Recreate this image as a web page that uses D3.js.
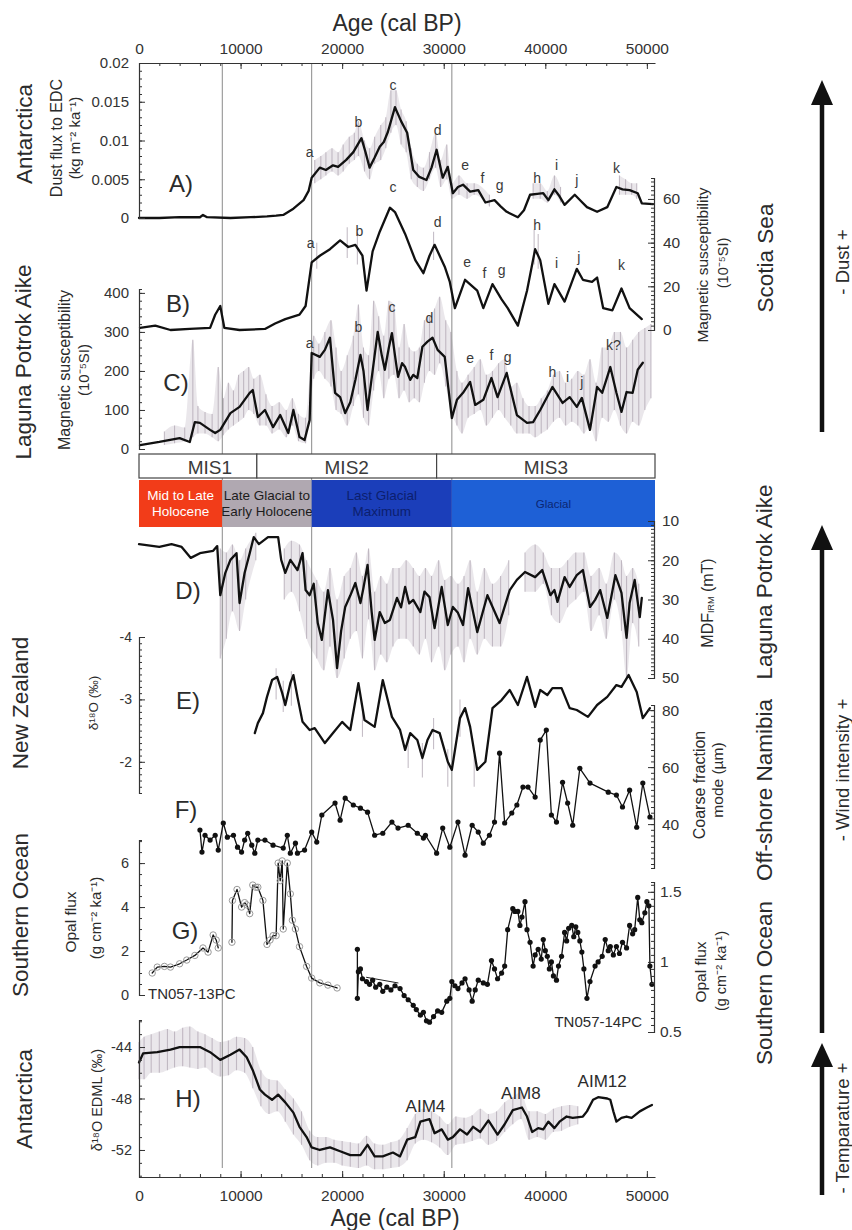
<!DOCTYPE html>
<html><head><meta charset="utf-8">
<script src="https://cdn.jsdelivr.net/npm/d3@7"></script>
<style>
html,body{margin:0;padding:0;background:#fff;}
svg{display:block;font-family:"Liberation Sans",Arial,Helvetica,sans-serif;}
</style></head><body>
<svg id="fig" width="852" height="1230"></svg>
<script>
// ---------- records: [age (cal BP), value] ----------
// A) dust flux to EDC (kg m-2 ka-1)
const dustFlux = [[0,0],[2000,0],[4000,0.0001],[6000,0.0001],[6300,0.0004],[6700,0.0001],[9000,0],[11000,0.0001],[12600,0.0002],[13500,0.0003],[14200,0.0004],[15200,0.0012],[16200,0.0023],[16700,0.0035],[17000,0.0052],[17800,0.0065],[18400,0.0062],[19100,0.0068],[19600,0.0066],[20400,0.0075],[21100,0.0085],[21900,0.0103],[22300,0.0085],[22700,0.0065],[23200,0.0078],[23700,0.0092],[24100,0.0098],[24500,0.0111],[25200,0.0143],[25800,0.0125],[26400,0.011],[27000,0.0062],[27600,0.0053],[28300,0.0049],[28800,0.0065],[29300,0.0088],[29900,0.0052],[30400,0.0066],[30900,0.0032],[31400,0.004],[31900,0.0043],[32600,0.0034],[33400,0.0036],[34100,0.002],[35000,0.0023],[35600,0.0015],[36200,0.0008],[37300,0.0001],[37900,0.001],[38500,0.003],[39200,0.0031],[39800,0.0032],[40300,0.0023],[40900,0.0037],[41400,0.0028],[41900,0.0017],[42900,0.003],[43500,0.0022],[44100,0.0014],[45100,0.0008],[46100,0.0014],[47000,0.004],[47600,0.0037],[48300,0.0036],[49100,0.0032],[49500,0.0019],[50600,0.0018]];
// raw dust samples: [age, low, high]
const dustRaw = [[17300,0.0045,0.0075],[17900,0.005,0.008],[18400,0.0055,0.0085],[19000,0.006,0.009],[19600,0.0055,0.0085],[20100,0.006,0.0095],[20700,0.007,0.0105],[21200,0.0075,0.011],[21600,0.008,0.0125],[22200,0.006,0.010],[22700,0.005,0.009],[23200,0.007,0.0105],[23800,0.0075,0.012],[24300,0.009,0.013],[24800,0.011,0.0165],[25300,0.012,0.0165],[25800,0.0095,0.014],[26300,0.0085,0.0125],[26800,0.005,0.009],[27400,0.004,0.007],[28000,0.0035,0.0065],[28600,0.005,0.0085],[29200,0.0065,0.011],[29700,0.004,0.0075],[30300,0.005,0.0095],[30800,0.0025,0.0045],[31500,0.003,0.0055],[32300,0.0025,0.0045],[33000,0.003,0.0045],[34500,0.0015,0.003],[38800,0.0025,0.0045],[39500,0.0025,0.0045],[40200,0.002,0.0035],[40900,0.003,0.0055],[41500,0.002,0.004],[47300,0.003,0.0055],[47900,0.003,0.005],[48500,0.003,0.0045],[49000,0.0025,0.0045]];

// B) Scotia Sea magnetic susceptibility (10-5 SI)
const scotiaSus = [[100,1],[1600,2],[3100,0],[5000,0.5],[7000,1],[7500,7],[8000,11],[8400,1],[9900,0],[12400,0.5],[13400,3],[14400,5],[15800,7],[16400,11],[17000,31],[17800,34],[18800,37],[19800,41],[20600,38],[21300,39],[22000,34],[22400,18],[23000,36],[23700,45],[24700,56],[25200,54],[26200,44],[27200,32],[28000,26],[28600,34],[29100,39],[30100,29],[30600,22],[31100,10],[32100,23],[33300,18],[33900,10],[34800,21],[35700,14],[36300,10],[37300,2],[38200,18],[39000,37],[39500,32],[40300,12],[40900,21],[41900,13],[43100,28],[43700,23],[44600,22],[45100,24],[45700,10],[46600,9],[47500,19],[48300,10],[49500,5]];
const scotiaRaw = [[17500,28,40],[20500,33,47],[21500,30,45],[29000,32,45],[38900,30,46],[39300,28,44]];

// C) Laguna Potrok Aike magnetic susceptibility (10-5 SI)
const lpaSus = [[100,10],[2000,18],[4000,28],[5000,18],[5500,69],[6000,67],[7000,49],[7500,41],[8000,49],[9000,92],[9900,108],[10900,144],[11200,151],[11700,82],[12400,100],[13200,56],[13900,87],[14700,41],[15200,100],[15800,31],[16300,23],[16800,74],[17000,246],[17800,236],[18300,254],[18800,285],[19300,144],[19800,133],[20300,92],[20800,120],[21300,177],[21800,241],[22100,200],[22500,100],[23000,200],[23500,300],[23900,240],[24200,203],[24600,260],[24900,297],[25200,240],[25500,185],[25900,220],[26200,210],[26700,177],[27000,190],[27400,182],[27900,262],[28400,275],[28900,285],[29400,254],[30100,236],[30800,79],[31300,126],[31900,144],[32600,172],[33100,113],[33900,126],[34700,182],[35300,133],[36200,195],[37200,87],[38200,67],[38800,69],[39500,100],[40700,159],[41700,118],[42400,133],[43100,108],[43600,131],[44400,49],[45100,159],[45600,144],[46400,210],[47000,144],[47500,95],[48000,146],[48600,144],[49100,203],[49600,221]];
const lpaRaw = [[2500,10,45],[3500,15,60],[4500,20,55],[5300,30,280],[5800,40,110],[6500,40,95],[7200,30,90],[7800,20,210],[8300,35,130],[8800,50,170],[9300,60,150],[9800,70,190],[10300,80,200],[10800,100,210],[11300,90,180],[11900,60,190],[12500,60,140],[13100,40,110],[13800,50,120],[14500,30,100],[15100,60,130],[15700,20,90],[16400,15,80],[17200,180,290],[17700,200,270],[18300,180,300],[18900,160,330],[19400,100,260],[19900,90,200],[20500,60,240],[21100,110,290],[21600,140,370],[22100,80,260],[22600,60,240],[23100,150,380],[23600,200,340],[24100,130,290],[24600,180,380],[25100,190,370],[25600,130,260],[26100,150,320],[26600,120,260],[27100,130,250],[27600,120,260],[28100,170,330],[28600,200,340],[29100,190,360],[29600,220,390],[30200,160,330],[30700,100,300],[31300,60,200],[31800,40,170],[32400,80,190],[33000,90,210],[33600,100,230],[34200,60,190],[34800,80,200],[35400,100,220],[36000,80,230],[36600,60,160],[37200,40,170],[37800,40,130],[38400,40,110],[39000,30,110],[39600,40,130],[40200,50,150],[40800,70,190],[41400,80,200],[42000,60,170],[42600,70,180],[43200,60,200],[43800,40,190],[44400,60,230],[45000,20,170],[45600,80,260],[46200,70,260],[46800,100,300],[47400,60,300],[48000,40,260],[48600,70,280],[49200,60,300],[49800,100,310],[50400,130,320]];

// D) Laguna Potrok Aike MDF (mT)
const lpaMdf = [[0,15.9],[2000,16.6],[3200,15.9],[4200,16.6],[5100,19.4],[6000,18.2],[7300,17.6],[7700,16.4],[8000,28.9],[8500,23.2],[9000,19.9],[9600,18.2],[9900,30.9],[10400,23.2],[10900,18.2],[11300,14.1],[11800,15.9],[12700,14.1],[13700,14.1],[14000,19.9],[14400,23.2],[14900,19.9],[15600,22.5],[16100,18.2],[16400,27.6],[16800,28.9],[17200,26],[17600,36],[18000,40.3],[18600,27.6],[19100,35.2],[19500,47.5],[19900,38],[20300,31.9],[20800,29],[21300,25.8],[21800,30.9],[22100,27],[22500,21.2],[22900,33],[23200,40.3],[23700,33.2],[24200,36],[24700,35.2],[25400,29.6],[25800,32],[26200,26.8],[26600,31],[27000,30.1],[27700,33.2],[28100,28],[28600,29.4],[29100,37.3],[29800,26.8],[30400,36.5],[30900,31.9],[31400,33.4],[31900,36.5],[32400,27.1],[33300,38.3],[34300,28.9],[35500,36],[36500,27.6],[37200,25],[38000,23],[39000,24.3],[39700,22.5],[40500,28.9],[40900,27.6],[41200,30.6],[41900,24.3],[42400,26.8],[43100,23.8],[43700,22.5],[44400,31.9],[44900,30.1],[45400,27.6],[46100,34.7],[46900,23.8],[47500,28.3],[48000,39.8],[48300,30.9],[48800,25],[49300,34.5],[49500,29.6]];
const mdfRaw = [[8000,17,45],[8600,18,40],[9200,16,33],[9900,20,38],[10500,17,30],[11500,13,20],[14300,17,30],[15000,15,28],[15800,16,33],[16500,20,40],[17500,25,45],[18200,28,48],[18800,22,42],[19500,30,50],[20200,24,45],[20800,22,40],[21400,18,38],[22000,24,45],[22600,17,35],[23200,28,48],[23800,24,44],[24400,26,46],[25000,22,42],[25600,22,40],[26300,20,40],[27000,22,42],[27600,24,44],[28200,22,40],[28800,24,46],[29500,20,42],[30100,25,48],[30700,24,44],[31400,26,42],[32000,24,46],[32600,20,40],[33300,28,44],[34000,22,40],[34800,26,42],[35600,24,42],[36400,20,34],[38000,18,28],[39000,16,28],[39800,18,26],[40600,22,34],[41400,22,36],[42200,20,32],[43000,18,30],[43800,18,28],[44500,24,38],[45300,22,34],[46000,26,40],[46800,18,30],[47500,20,38],[48000,24,50],[48600,22,36],[49200,26,42]];

// E) New Zealand speleothem d18O (permil)
const nzO18 = [[11400,-2.46],[11700,-2.62],[12200,-2.78],[12600,-3.04],[13100,-3.31],[13600,-3.36],[14100,-3.10],[14400,-2.91],[14900,-3.26],[15200,-3.39],[15600,-3.04],[16100,-2.64],[16800,-2.51],[17300,-2.54],[18300,-2.30],[19100,-2.46],[20000,-2.64],[20800,-2.51],[21600,-3.26],[22200,-2.67],[23200,-2.56],[24000,-3.31],[24900,-2.72],[25700,-2.51],[26200,-2.19],[26700,-2.46],[27400,-2.35],[27900,-2.06],[28400,-2.35],[28900,-2.51],[29600,-2.46],[30400,-2.0],[30800,-1.87],[31600,-2.70],[32100,-2.86],[32600,-2.56],[33300,-1.87],[34100,-2.0],[34800,-2.86],[35700,-2.99],[36500,-3.15],[37300,-2.91],[38200,-3.36],[39000,-2.88],[39500,-3.15],[40200,-3.07],[40700,-3.18],[41600,-3.18],[42400,-2.86],[43100,-2.83],[44200,-2.72],[45100,-2.91],[46100,-3.04],[47000,-3.23],[47500,-3.20],[48200,-3.39],[49000,-3.12],[49600,-2.70],[50300,-2.86]];
const nzRaw = [[13500,-3.5,-3.0],[14200,-3.3,-2.8],[15000,-3.45,-2.9],[22000,-2.9,-2.4],[26500,-2.4,-1.9],[27900,-2.3,-1.75],[29000,-2.7,-2.2],[30400,-2.2,-1.6],[31600,-3.0,-2.4],[33000,-2.1,-1.6]];

// F) off-shore Namibia coarse fraction mode (um)
const namibia = [[6000,37.9],[6200,30.2],[6500,36.1],[7000,34.4],[7500,36.1],[7800,30.9],[8300,40.4],[8700,35.4],[9300,36.1],[9700,31.9],[10100,30.2],[10400,34.4],[10700,36.8],[11100,32.6],[11400,29.8],[11700,34.4],[12400,34.4],[13200,32.6],[14200,31.6],[14600,36.1],[14900,29.8],[15400,33.3],[15600,29.8],[16300,30.9],[17000,37.2],[17500,33.7],[18000,43.2],[19300,47.4],[19800,41.4],[20300,49.1],[21100,46.7],[21800,45.6],[22500,44.2],[23200,36.1],[24000,36.8],[24900,40.7],[25500,38.6],[26500,39.6],[27400,36.8],[28000,35.1],[28200,36.1],[29300,29.8],[29900,38.6],[30600,31.9],[31400,40.7],[32100,29.1],[32800,39.6],[33400,37.2],[33900,33.3],[34500,36.1],[35000,40.7],[35500,64.9],[36000,40.4],[36700,43.9],[37200,46.7],[37800,53],[38300,53],[39000,49.5],[39500,69.5],[40100,73],[40600,43.2],[41100,40.7],[41700,54.7],[42200,47.4],[42700,39.6],[43400,59.6],[44400,54.4],[46200,51.2],[47000,50.2],[47600,46],[48300,51.9],[49000,38.9],[49600,54.4],[50300,42.5]];

// G) Southern Ocean opal flux (g cm-2 ka-1); null marks a core gap
const opal13 = [[1300,1.0],[1800,1.27],[2500,1.3],[3100,1.27],[4000,1.42],[4700,1.59],[5500,1.8],[6300,2.14],[6800,1.95],[7300,2.73],[7600,2.5],[7800,2.14],[8500,null],[9150,2.4],[9200,4.3],[9650,4.8],[10100,4.0],[10400,4.2],[10600,4.1],[10900,3.7],[11200,5.0],[11500,4.9],[11700,4.9],[12200,4.3],[12600,2.3],[12900,2.5],[13200,2.7],[13500,2.7],[13700,6.0],[13900,5.2],[14100,6.1],[14200,3.0],[14600,6.0],[14900,4.6],[15100,3.4],[15400,3.0],[15800,2.2],[16500,1.3],[17000,0.77],[17800,0.55],[18600,0.45],[19500,0.32]];
const opal14 = [[21500,1.09],[21500,0.74],[21600,0.93],[21800,0.95],[22000,0.88],[22400,0.86],[22700,0.84],[23000,0.87],[23300,0.82],[23700,0.84],[24000,0.79],[24400,0.82],[24800,0.80],[25200,0.83],[25700,0.81],[26100,0.76],[26500,0.73],[27000,0.69],[27300,0.66],[27700,0.62],[28000,0.64],[28300,0.58],[28600,0.57],[29000,0.61],[29400,0.65],[29800,0.64],[30300,0.72],[30600,0.74],[30800,0.86],[31100,0.83],[31400,0.81],[31800,0.85],[32100,0.88],[32500,0.80],[32800,0.72],[33100,0.80],[33400,0.87],[33900,0.85],[34300,0.84],[34700,1.01],[35000,0.95],[35300,0.88],[35700,0.92],[36000,0.97],[36300,1.23],[36800,1.38],[37000,1.36],[37300,1.36],[37500,1.26],[37700,1.32],[38000,1.43],[38200,1.23],[38500,1.14],[38800,0.97],[39000,1.05],[39300,1.09],[39600,1.02],[39800,1.16],[40000,1.08],[40200,1.04],[40400,0.95],[40600,1.00],[40800,0.90],[41100,0.87],[41300,0.97],[41600,1.04],[41900,1.21],[42100,1.15],[42300,1.24],[42600,1.26],[42800,1.18],[43000,1.25],[43200,1.21],[43400,1.15],[43600,1.07],[43800,0.95],[44100,0.74],[44400,0.86],[44900,0.97],[45200,1.00],[45600,1.04],[45900,1.16],[46200,1.08],[46400,1.11],[46700,1.05],[47000,1.11],[47300,1.06],[47600,1.14],[48000,1.10],[48300,1.26],[48600,1.20],[48800,1.23],[49100,1.46],[49300,1.30],[49500,1.28],[49800,1.35],[50000,1.43],[50200,1.40],[50300,0.97],[50500,0.84]];
const opal14b = [[22400,0.89],[25500,0.85]];

// H) EDML d18O (permil)
const edml = [[0,-45.2],[400,-44.5],[1800,-44.4],[3100,-44.2],[4000,-44.0],[6000,-44.0],[7000,-44.4],[8000,-45.0],[9000,-44.6],[9900,-44.2],[10600,-44.8],[11200,-45.8],[11900,-47.3],[12400,-47.7],[13100,-48.1],[13700,-47.7],[14400,-48.3],[15200,-49.1],[15800,-50.2],[16500,-51.0],[17000,-51.8],[17800,-52.0],[18800,-51.8],[19800,-52.1],[20800,-52.4],[21800,-52.4],[22500,-51.6],[23200,-52.5],[24000,-52.5],[25000,-52.2],[25700,-52.5],[26400,-51.2],[27200,-51.0],[27700,-49.8],[28600,-49.6],[29100,-50.7],[29800,-50.4],[30400,-51.2],[30900,-51.0],[31600,-50.4],[32300,-50.8],[32900,-50.2],[33600,-50.6],[34400,-49.7],[35300,-50.8],[36000,-50.0],[36800,-48.9],[37700,-48.7],[38200,-49.4],[38700,-50.6],[39300,-50.3],[39800,-50.4],[40300,-49.8],[40900,-50.3],[41400,-49.8],[42100,-49.4],[42700,-49.5],[43700,-49.4],[44100,-49.0],[44700,-48.1],[45200,-47.9],[46100,-48.0],[46400,-48.1],[46700,-49.0],[47000,-49.8],[47500,-49.5],[48000,-49.4],[48500,-49.5],[49300,-49.0],[50000,-48.7],[50500,-48.5]];
const edmlRaw = [[0,-46.5,-43.6],[500,-46.5,-43.2],[1200,-46,-43],[2000,-46,-42.8],[2800,-45.8,-42.6],[3500,-45.6,-42.8],[4300,-45.5,-42.5],[5000,-45.6,-42.4],[5800,-45.7,-42.8],[6500,-45.6,-43],[7200,-46,-43.3],[8000,-46.3,-43.6],[8800,-46.2,-43.5],[9600,-45.8,-43.2],[10400,-46,-43.3],[11200,-47.2,-44],[12000,-48.6,-45.8],[12800,-49.2,-46.5],[13600,-49,-46.6],[14400,-49.8,-47.3],[15200,-50.8,-48],[16000,-51.6,-49],[16800,-52.8,-50.5],[17600,-53.2,-51],[18400,-53,-51],[19200,-53,-51.2],[20000,-53.2,-51.3],[20800,-53.3,-51.4],[21600,-53.4,-51.5],[22400,-53.2,-50.9],[23200,-53.5,-51.5],[24000,-53.5,-51.6],[24800,-53.4,-51.4],[25600,-53.3,-51.2],[26400,-52.8,-50.3],[27200,-51.5,-49.2],[28000,-51.2,-48.8],[28800,-51.4,-49],[29600,-51.8,-49.4],[30400,-52.4,-50],[31200,-51.6,-49.4],[32000,-51.5,-49.5],[32800,-51.3,-49.3],[33600,-51.1,-48.8],[34400,-51.6,-49.2],[35200,-51.3,-49],[36000,-50.6,-48.3],[36800,-50,-47.9],[37600,-49.6,-47.5],[38400,-51.2,-49],[39200,-51,-49],[40000,-51.2,-49.2],[40800,-50.6,-48.8],[41600,-50.5,-48.6],[42400,-50.2,-48.5],[43200,-50,-48.6]];

// event labels: [letter, age, value]
const dustEvents = [["a",16800,0.0085],["b",21600,0.0124],["c",25000,0.0172],["d",29400,0.0114],["e",32100,0.0068],["f",33800,0.0052],["g",35500,0.0043],["h",39200,0.0052],["i",41100,0.0068],["j",43100,0.0049],["k",47000,0.0065]];
const scotiaEvents = [["a",16900,39.9],["b",21700,45.3],["c",25000,65.5],["d",29400,49.5],["e",32300,31.1],["f",34000,26.1],["g",35700,27.5],["h",39200,48.1],["i",41100,30.7],["j",43300,33.4],["k",47500,29.8]];
const lpaEvents = [["a",16800,272],["b",21600,313],["c",24900,364],["d",28600,336],["e",32600,233],["f",34700,241],["g",36300,236],["h",40700,197],["i",42200,185],["j",43600,172],["k?",46700,267]];
const aimLabels = [["AIM4",28200,-48.6],["AIM8",37600,-47.6],["AIM12",45600,-46.7]];

// stage boxes and climate periods
const misNames = ["MIS1","MIS2","MIS3"];
const misBounds = [0, 11600, 29300, 50800];
const periodNames = [["Mid to Late","Holocene"],["Late Glacial to","Early Holocene"],["Last Glacial","Maximum"],["Glacial"]];
const periodBounds = [0, 8200, 17000, 30800, 50800];
const periodFill = ["#f23c19","#b0a8b1","#1b3eba","#1e60d6"];
const periodInk = ["#ffffff","#1c1c1c","#0c1f6e","#0b2672"];
const markerAges = [8200, 17000, 30800];
const ageTicks = [0,10000,20000,30000,40000,50000];

// ---------- drawing ----------
const svg = d3.select("#fig");
const ink = "#2b2b2b";
const x = d3.scaleLinear().domain([0, 50800]).range([139, 655]);
const yA = d3.scaleLinear().domain([0, 0.02]).range([218, 63]);
const yB = d3.scaleLinear().domain([0, 69.6]).range([330, 178]);
const yC = d3.scaleLinear().domain([0, 410]).range([449, 289]);
const yD = d3.scaleLinear().domain([10, 50]).range([521, 678]);
const yE = d3.scaleLinear().domain([-4, -1.5]).range([637, 793]);
const yF = d3.scaleLinear().domain([24.6, 81.8]).range([868, 705]);
const yG = d3.scaleLinear().domain([0, 7.05]).range([995, 840]);
const yG2 = d3.scaleLinear().domain([0.5, 1.57]).range([1032, 882]);
const yH = d3.scaleLinear().domain([-54.1, -41.9]).range([1177, 1020]);

const gRaw = svg.append("g");
const gRef = svg.append("g");
const gData = svg.append("g");
const gAx = svg.append("g");
const gTxt = svg.append("g");

// raw measurements: a faint envelope (broken at sampling gaps) plus individual sample ranges
function rawScatter(rows, ys, band = true) {
  if (band) {
    const runs = [];
    rows.forEach((d, i) => {
      if (i === 0 || d[0] - rows[i - 1][0] > 1500) runs.push([]);
      runs[runs.length - 1].push(d);
    });
    const area = d3.area().x(d => x(d[0])).y0(d => ys(d[1])).y1(d => ys(d[2])).curve(d3.curveMonotoneX);
    gRaw.append("g").selectAll("path").data(runs.filter(r => r.length > 1)).join("path")
      .attr("d", area).attr("fill", "#c8bfca").attr("opacity", 0.38);
  }
  gRaw.append("g").selectAll("line").data(rows).join("line")
    .attr("x1", d => x(d[0])).attr("x2", d => x(d[0]))
    .attr("y1", d => ys(d[1])).attr("y2", d => ys(d[2]))
    .attr("stroke", "#b3a9b5").attr("stroke-width", 1.1).attr("opacity", 0.75);
}
function curve(rows, ys, w = 2.3, col = "#111") {
  gData.append("path").datum(rows)
    .attr("d", d3.line().defined(d => d[1] != null).x(d => x(d[0])).y(d => ys(d[1])))
    .attr("fill", "none").attr("stroke", col).attr("stroke-width", w)
    .attr("stroke-linejoin", "round").attr("stroke-linecap", "round");
}
function dots(rows, ys, r, fill, stroke) {
  gData.append("g").selectAll("circle").data(rows.filter(d => d[1] != null)).join("circle")
    .attr("cx", d => x(d[0])).attr("cy", d => ys(d[1])).attr("r", r)
    .attr("fill", fill).attr("stroke", stroke).attr("stroke-width", 1);
}

// reference lines at 8.2, 17 and 30.8 ka
gRef.selectAll("line").data(markerAges).join("line")
  .attr("x1", d => x(d)).attr("x2", d => x(d)).attr("y1", 63).attr("y2", 1168)
  .attr("stroke", "#8a8a8a").attr("stroke-width", 1);

rawScatter(dustRaw, yA); rawScatter(scotiaRaw, yB, false); rawScatter(lpaRaw, yC);
rawScatter(mdfRaw, yD); rawScatter(nzRaw, yE, false); rawScatter(edmlRaw, yH);

curve(dustFlux, yA); curve(scotiaSus, yB); curve(lpaSus, yC);
curve(lpaMdf, yD); curve(nzO18, yE); curve(edml, yH);
curve(namibia, yF, 1.3); dots(namibia, yF, 2.6, "#111", "none");
curve(opal13, yG, 1.3); dots(opal13, yG, 3.2, "none", "#9a9a9a");
curve(opal14b, yG2, 1, "#222");
curve(opal14, yG2, 1.3); dots(opal14, yG2, 2.6, "#111", "none");

// stage boxes
const mis = gData.append("g");
misNames.forEach((n, i) => {
  mis.append("rect").attr("x", x(misBounds[i])).attr("y", 454)
    .attr("width", x(misBounds[i + 1]) - x(misBounds[i])).attr("height", 24)
    .attr("fill", "#fff").attr("stroke", "#444").attr("stroke-width", 1.2);
  mis.append("text").attr("x", (x(misBounds[i]) + x(misBounds[i + 1])) / 2 + (i === 0 ? 12 : 0)).attr("y", 467)
    .attr("text-anchor", "middle").attr("dominant-baseline", "central")
    .attr("font-size", 19).attr("fill", "#3a3a3a").text(n);
});
// climate periods band
periodNames.forEach((lines, i) => {
  const x0 = x(periodBounds[i]), x1 = x(periodBounds[i + 1]);
  mis.append("rect").attr("x", x0).attr("y", 480).attr("width", x1 - x0).attr("height", 47).attr("fill", periodFill[i]);
  const fs = i === 3 ? 11.5 : 13.5;
  const t = mis.append("text").attr("text-anchor", "middle").attr("font-size", fs).attr("fill", periodInk[i]);
  lines.forEach((s, k) => {
    t.append("tspan").attr("x", (x0 + x1) / 2).attr("y", 503.5 + (k - (lines.length - 1) / 2) * 15.5)
      .attr("dominant-baseline", "central").text(s);
  });
});

// ---------- axes ----------
function styleAxis(g, fs) {
  g.attr("font-family", null).attr("font-size", null);
  g.selectAll("path").attr("stroke", "#333").attr("stroke-width", 1.2);
  g.selectAll("line").attr("stroke", "#333").attr("stroke-width", 1);
  g.selectAll("text").attr("fill", "#333").attr("font-size", fs);
}
function yAxis(side, xpos, scale, majors, minors, fmt, pad, fs) {
  const mk = side === "left" ? d3.axisLeft : d3.axisRight;
  const m = gAx.append("g").attr("transform", `translate(${xpos},0)`)
    .call(mk(scale).tickValues(minors).tickSizeInner(-3).tickSizeOuter(0).tickFormat(""));
  m.select(".domain").remove(); styleAxis(m, fs);
  const g = gAx.append("g").attr("transform", `translate(${xpos},0)`)
    .call(mk(scale).tickValues(majors).tickSizeInner(-6).tickSizeOuter(-3).tickPadding(pad).tickFormat(fmt));
  styleAxis(g, fs);
}
const plain = v => String(+v.toFixed(3));
const rng = (a, b, s) => d3.range(a, b + s / 2, s);

yAxis("left", 139, yA, [0, 0.005, 0.01, 0.015, 0.02], rng(0, 0.02, 0.001), plain, 10, 15);
yAxis("right", 654, yB, [0, 20, 40, 60], rng(0, 68, 2), plain, 9, 15.5);
yAxis("left", 139, yC, [0, 100, 200, 300, 400], rng(0, 400, 20), plain, 10, 15);
yAxis("right", 654, yD, [10, 20, 30, 40, 50], rng(10, 50, 1), plain, 8, 15.5);
yAxis("left", 139, yE, [-4, -3, -2], rng(-4, -1.5, 0.1), plain, 7, 14);
yAxis("right", 654, yF, [40, 60, 80], rng(26, 80, 2), plain, 8, 15.5);
yAxis("left", 139, yG, [0, 2, 4, 6], rng(0, 7, 0.5), plain, 10, 14.5);
yAxis("right", 654, yG2, [0.5, 1, 1.5], rng(0.5, 1.55, 0.05), plain, 6, 15.5);
yAxis("left", 139, yH, [-44, -48, -52], rng(-54, -42, 1), plain, 7, 14.5);

function xAxis(y, top) {
  const mk = top ? d3.axisTop : d3.axisBottom;
  const m = gAx.append("g").attr("transform", `translate(0,${y})`)
    .call(mk(x).tickValues(rng(0, 50000, 2000)).tickSizeInner(-3).tickSizeOuter(0).tickFormat(""));
  m.select(".domain").remove(); styleAxis(m, 15);
  const g = gAx.append("g").attr("transform", `translate(0,${y})`)
    .call(mk(x).tickValues(ageTicks).tickSizeInner(-6).tickSizeOuter(0).tickPadding(top ? 9 : 13).tickFormat(d3.format("d")));
  styleAxis(g, 15.5);
}
xAxis(63, true);
xAxis(1177, false);

// ---------- text ----------
function txt(px, py, s, fs, o = {}) {
  const t = gTxt.append("text").attr("x", px).attr("y", py).attr("font-size", fs)
    .attr("fill", o.fill || ink).attr("text-anchor", o.anchor || "middle")
    .attr("dominant-baseline", "central");
  if (o.rot) t.attr("transform", `rotate(-90,${px},${py})`);
  t.text(s);
  return t;
}

txt(397, 23, "Age (cal BP)", 23);
txt(395, 1218, "Age (cal BP)", 23);

// region names
txt(24, 134, "Antarctica", 22.5, {rot: true});
txt(23, 362, "Laguna Potrok Aike", 22.5, {rot: true});
txt(20, 703, "New Zealand", 22.5, {rot: true});
txt(20, 915, "Southern Ocean", 22.5, {rot: true});
txt(24, 1099, "Antarctica", 22.5, {rot: true});
txt(765, 258, "Scotia  Sea", 22.5, {rot: true});
txt(764, 582, "Laguna Potrok Aike", 22.5, {rot: true});
txt(764, 790, "Off-shore Namibia", 22.5, {rot: true});
txt(764, 983, "Southern Ocean", 22.5, {rot: true});

// axis titles
txt(56, 138, "Dust flux to EDC", 16, {rot: true});
txt(74, 138, "(kg m\u207B\u00B2 ka\u207B\u00B9)", 15, {rot: true});
txt(64, 370, "Magnetic susceptibility", 16, {rot: true});
txt(83, 370, "(10\u207B\u2075SI)", 15, {rot: true});
txt(93, 703, "\u03B4\u00B9\u2078O (\u2030)", 13.5, {rot: true});
txt(70, 922, "Opal flux", 15.5, {rot: true});
txt(95, 918, "(g cm\u207B\u00B2 ka\u207B\u00B9)", 15, {rot: true});
txt(97, 1100, "\u03B4\u00B9\u2078O EDML (\u2030)", 14.5, {rot: true});

txt(702, 265, "Magnetic susceptibility", 15.5, {rot: true});
txt(723, 263, "(10\u207B\u2075SI)", 14.5, {rot: true});
{
  const t = txt(707, 603, "", 16, {rot: true});
  t.append("tspan").text("MDF");
  t.append("tspan").attr("font-size", 9).attr("dy", 4).text("IRM");
  t.append("tspan").attr("dy", -4).text(" (mT)");
}
txt(699, 785, "Coarse fraction", 16, {rot: true});
txt(717, 780, "mode (\u00B5m)", 15.5, {rot: true});
txt(700, 972, "Opal flux", 15.5, {rot: true});
txt(721, 971, "(g cm\u207B\u00B2 ka\u207B\u00B9)", 14.5, {rot: true});

// panel letters
[["A)",181,183],["B)",178,303],["C)",176,382],["D)",188,590],["E)",188,700],["F)",186,809],["G)",185,930],["H)",188,1098]]
  .forEach(d => txt(d[1], d[2], d[0], 24));

// event letters
dustEvents.forEach(d => txt(x(d[1]), yA(d[2]), d[0], 14, {fill: "#3a3a3a"}));
scotiaEvents.forEach(d => txt(x(d[1]), yB(d[2]), d[0], 14, {fill: "#3a3a3a"}));
lpaEvents.forEach(d => txt(x(d[1]), yC(d[2]), d[0], 14, {fill: "#3a3a3a"}));
aimLabels.forEach(d => txt(x(d[1]), yH(d[2]), d[0], 17));
txt(148, 993, "TN057-13PC", 15, {anchor: "start"});
txt(642, 1021, "TN057-14PC", 15, {anchor: "end"});

// direction arrows
function arrow(ax, tip, base, bottom, label, ly) {
  gTxt.append("line").attr("x1", ax).attr("x2", ax).attr("y1", base - 2).attr("y2", bottom)
    .attr("stroke", "#111").attr("stroke-width", 4.5);
  gTxt.append("path").attr("d", `M${ax},${tip}L${ax - 11},${base}L${ax + 11},${base}Z`).attr("fill", "#111");
  txt(842, ly, label, 18.5, {rot: true});
}
arrow(822, 80, 105, 432, "- Dust +", 262);
arrow(822, 525, 550, 1033, "- Wind intensity +", 770);
arrow(822, 1043, 1067, 1195, "- Temparature +", 1128);
</script>
</body></html>
